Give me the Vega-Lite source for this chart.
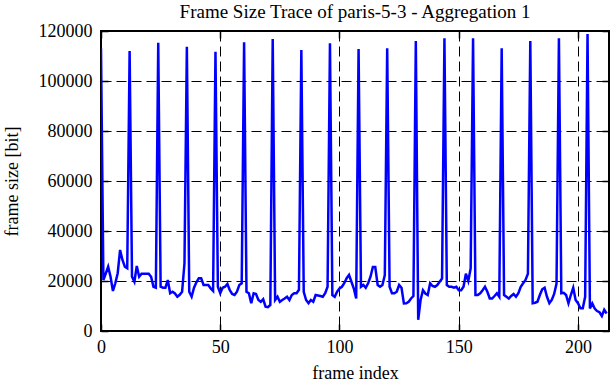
{
  "$schema": "https://vega.github.io/schema/vega-lite/v6.json",
  "width": 508,
  "height": 300,
  "autosize": "none",
  "padding": {"left": 101, "top": 31, "right": 3, "bottom": 51},
  "background": "white",
  "title": {"text": "Frame Size Trace of paris-5-3 - Aggregation 1", "font": "Liberation Serif", "fontSize": 19, "fontWeight": "normal", "color": "black", "offset": 0, "anchor": "middle"},
  "data": {"values": [
    {"frame":0,"size":113100},{"frame":1,"size":20400},{"frame":2,"size":23000},{"frame":3,"size":25700},{"frame":4,"size":21700},{"frame":5,"size":16000},{"frame":6,"size":19100},{"frame":7,"size":23100},{"frame":8,"size":32400},{"frame":9,"size":28400},
    {"frame":10,"size":25700},{"frame":11,"size":25100},{"frame":12,"size":112000},{"frame":13,"size":21700},{"frame":14,"size":19700},{"frame":15,"size":26000},{"frame":16,"size":21700},{"frame":17,"size":22900},{"frame":18,"size":22900},{"frame":19,"size":22900},
    {"frame":20,"size":22900},{"frame":21,"size":21700},{"frame":22,"size":17700},{"frame":23,"size":17300},{"frame":24,"size":115300},{"frame":25,"size":17700},{"frame":26,"size":17300},{"frame":27,"size":17300},{"frame":28,"size":20400},{"frame":29,"size":15100},
    {"frame":30,"size":15700},{"frame":31,"size":15000},{"frame":32,"size":13700},{"frame":33,"size":14500},{"frame":34,"size":15700},{"frame":35,"size":27100},{"frame":36,"size":113700},{"frame":37,"size":15700},{"frame":38,"size":13700},{"frame":39,"size":17300},
    {"frame":40,"size":19500},{"frame":41,"size":21100},{"frame":42,"size":21100},{"frame":43,"size":18400},{"frame":44,"size":18400},{"frame":45,"size":18400},{"frame":46,"size":17000},{"frame":47,"size":16000},{"frame":48,"size":111700},{"frame":49,"size":17700},
    {"frame":50,"size":15100},{"frame":51,"size":17300},{"frame":52,"size":17700},{"frame":53,"size":18800},{"frame":54,"size":16300},{"frame":55,"size":14800},{"frame":56,"size":14400},{"frame":57,"size":15700},{"frame":58,"size":18400},{"frame":59,"size":19100},
    {"frame":60,"size":115500},{"frame":61,"size":15700},{"frame":62,"size":15100},{"frame":63,"size":11100},{"frame":64,"size":15100},{"frame":65,"size":14800},{"frame":66,"size":12400},{"frame":67,"size":11700},{"frame":68,"size":12700},{"frame":69,"size":9700},
    {"frame":70,"size":9500},{"frame":71,"size":10400},{"frame":72,"size":116800},{"frame":73,"size":12400},{"frame":74,"size":13700},{"frame":75,"size":11700},{"frame":76,"size":12400},{"frame":77,"size":13000},{"frame":78,"size":13700},{"frame":79,"size":12400},
    {"frame":80,"size":14400},{"frame":81,"size":15100},{"frame":82,"size":15100},{"frame":83,"size":16500},{"frame":84,"size":112400},{"frame":85,"size":15700},{"frame":86,"size":12400},{"frame":87,"size":11100},{"frame":88,"size":12400},{"frame":89,"size":11700},
    {"frame":90,"size":14400},{"frame":91,"size":14200},{"frame":92,"size":14000},{"frame":93,"size":13700},{"frame":94,"size":15100},{"frame":95,"size":17700},{"frame":96,"size":115100},{"frame":97,"size":14400},{"frame":98,"size":13700},{"frame":99,"size":15700},
    {"frame":100,"size":17000},{"frame":101,"size":17700},{"frame":102,"size":19100},{"frame":103,"size":21100},{"frame":104,"size":22400},{"frame":105,"size":19700},{"frame":106,"size":17000},{"frame":107,"size":13000},{"frame":108,"size":112800},{"frame":109,"size":17700},
    {"frame":110,"size":18400},{"frame":111,"size":17300},{"frame":112,"size":19100},{"frame":113,"size":21700},{"frame":114,"size":25600},{"frame":115,"size":25600},{"frame":116,"size":18400},{"frame":117,"size":17700},{"frame":118,"size":18400},{"frame":119,"size":22400},
    {"frame":120,"size":113100},{"frame":121,"size":17700},{"frame":122,"size":15100},{"frame":123,"size":15100},{"frame":124,"size":15700},{"frame":125,"size":18400},{"frame":126,"size":17300},{"frame":127,"size":11000},{"frame":128,"size":11100},{"frame":129,"size":11700},
    {"frame":130,"size":13000},{"frame":131,"size":14000},{"frame":132,"size":116000},{"frame":133,"size":4500},{"frame":134,"size":12400},{"frame":135,"size":16300},{"frame":136,"size":15000},{"frame":137,"size":14400},{"frame":138,"size":19100},{"frame":139,"size":18000},
    {"frame":140,"size":17700},{"frame":141,"size":18400},{"frame":142,"size":19700},{"frame":143,"size":21000},{"frame":144,"size":117100},{"frame":145,"size":18400},{"frame":146,"size":17700},{"frame":147,"size":17700},{"frame":148,"size":17300},{"frame":149,"size":17700},
    {"frame":150,"size":16300},{"frame":151,"size":16300},{"frame":152,"size":17700},{"frame":153,"size":22900},{"frame":154,"size":20000},{"frame":155,"size":25000},{"frame":156,"size":117100},{"frame":157,"size":14400},{"frame":158,"size":14400},{"frame":159,"size":15100},
    {"frame":160,"size":16300},{"frame":161,"size":17700},{"frame":162,"size":15700},{"frame":163,"size":13000},{"frame":164,"size":13000},{"frame":165,"size":14000},{"frame":166,"size":15100},{"frame":167,"size":13700},{"frame":168,"size":113100},{"frame":169,"size":14400},
    {"frame":170,"size":13700},{"frame":171,"size":13000},{"frame":172,"size":14000},{"frame":173,"size":14800},{"frame":174,"size":13700},{"frame":175,"size":15100},{"frame":176,"size":17700},{"frame":177,"size":19100},{"frame":178,"size":20400},{"frame":179,"size":22900},
    {"frame":180,"size":116000},{"frame":181,"size":11100},{"frame":182,"size":11300},{"frame":183,"size":11700},{"frame":184,"size":14400},{"frame":185,"size":16700},{"frame":186,"size":17300},{"frame":187,"size":13700},{"frame":188,"size":11100},{"frame":189,"size":12400},
    {"frame":190,"size":14800},{"frame":191,"size":19000},{"frame":192,"size":117100},{"frame":193,"size":15100},{"frame":194,"size":15300},{"frame":195,"size":14400},{"frame":196,"size":11100},{"frame":197,"size":14400},{"frame":198,"size":17300},{"frame":199,"size":12400},
    {"frame":200,"size":11100},{"frame":201,"size":9100},{"frame":202,"size":9100},{"frame":203,"size":13700},{"frame":204,"size":118800},{"frame":205,"size":9000},{"frame":206,"size":11000},{"frame":207,"size":9000},{"frame":208,"size":8000},{"frame":209,"size":7500},
    {"frame":210,"size":6000},{"frame":211,"size":8500},{"frame":212,"size":7000}
  ]},
  "layer": [
    {
      "mark": {"type": "line", "color": "#0000ff", "strokeWidth": 2.5, "clip": true},
      "encoding": {
        "x": {"field": "frame", "type": "quantitative",
              "scale": {"domain": [0, 213], "nice": false, "zero": false},
              "axis": {"orient": "bottom", "values": [0, 50, 100, 150, 200], "title": "frame index",
                       "grid": true, "labelPadding": 14, "titleY": 47, "titleBaseline": "alphabetic"}},
        "y": {"field": "size", "type": "quantitative",
              "scale": {"domain": [0, 120000], "nice": false},
              "axis": {"orient": "left", "values": [0, 20000, 40000, 60000, 80000, 100000, 120000], "format": "d",
                       "title": "frame size [bit]", "grid": true, "labelPadding": 16,
                       "titleX": -84, "titleY": 150, "titleBaseline": "alphabetic", "titleAngle": -90}}
      }
    },
    {
      "mark": {"type": "line", "opacity": 0},
      "encoding": {
        "x": {"field": "frame", "type": "quantitative",
              "scale": {"domain": [0, 213], "nice": false, "zero": false},
              "axis": {"orient": "top", "values": [0, 50, 100, 150, 200], "labels": false, "title": null, "grid": false}},
        "y": {"field": "size", "type": "quantitative",
              "scale": {"domain": [0, 120000], "nice": false},
              "axis": {"orient": "right", "values": [0, 20000, 40000, 60000, 80000, 100000, 120000], "labels": false, "title": null, "grid": false}}
      }
    }
  ],
  "resolve": {"scale": {"x": "independent", "y": "independent"}},
  "config": {
    "view": {"stroke": "black", "strokeWidth": 2, "fill": "white"},
    "axis": {
      "domain": false,
      "ticks": true,
      "tickSize": -7,
      "tickColor": "black",
      "tickWidth": 1.5,
      "gridColor": "black",
      "gridDash": [10, 5],
      "gridWidth": 1,
      "gridOpacity": 1,
      "labelFont": "Liberation Serif",
      "labelFontSize": 18,
      "labelColor": "black",
      "labelFlush": false,
      "labelOverlap": false,
      "labelBound": false,
      "titleFont": "Liberation Serif",
      "titleFontSize": 18,
      "titleFontWeight": "normal",
      "titleColor": "black"
    }
  }
}
